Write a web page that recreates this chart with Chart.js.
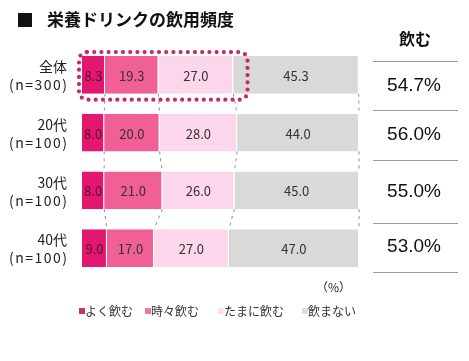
<!DOCTYPE html>
<html>
<head>
<meta charset="utf-8">
<script src="https://cdn.jsdelivr.net/npm/chart.js@4"></script>
<style>
  html, body { margin: 0; padding: 0; background: #fff; }
  #wrap { width: 469px; height: 361px; position: relative; }
</style>
</head>
<body>
<div id="wrap"><canvas id="c" width="469" height="361"></canvas></div>
<script>
const groups = ['全体', '20代', '30代', '40代'];
const sampleSizes = ['(n=300)', '(n=100)', '(n=100)', '(n=100)'];
const often = [8.3, 8.0, 8.0, 9.0];
const sometimes = [19.3, 20.0, 21.0, 17.0];
const rarely = [27.0, 28.0, 26.0, 27.0];
const never = [45.3, 44.0, 45.0, 47.0];
const drinkTotals = [54.7, 56.0, 55.0, 53.0];
const seriesNames = ['よく飲む', '時々飲む', 'たまに飲む', '飲まない'];
const colors = ['#e2176f', '#f05f96', '#fcd6ea', '#d9d9d9'];
const legendColors = ['#c8306e', '#e878a6', '#fbe0ee', '#dddddd'];

const JP = '"Noto Sans CJK JP", "Noto Sans", sans-serif';

const extras = {
  id: 'extras',
  beforeDatasetsDraw(chart) {
    const ctx = chart.ctx;
    const metas = [0, 1, 2, 3].map(d => chart.getDatasetMeta(d).data);
    // dashed connectors between bars
    ctx.save();
    ctx.strokeStyle = '#8c8c8c';
    ctx.lineWidth = 1;
    ctx.setLineDash([3, 4]);
    for (let i = 0; i < groups.length - 1; i++) {
      for (let k = 0; k < 4; k++) {
        const a = metas[k][i], b = metas[k][i + 1];
        ctx.beginPath();
        ctx.moveTo(a.x, a.y + a.height / 2);
        ctx.lineTo(b.x, b.y - b.height / 2);
        ctx.stroke();
      }
    }
    ctx.restore();
  },
  afterDatasetsDraw(chart) {
    const ctx = chart.ctx;
    const xs = chart.scales.x;
    const ys = chart.scales.y;
    const sets = [often, sometimes, rarely, never];

    // category labels
    ctx.save();
    ctx.fillStyle = '#222';
    ctx.textAlign = 'right';
    ctx.textBaseline = 'middle';
    ctx.font = '14px ' + JP;
    groups.forEach((g, i) => {
      const y = ys.getPixelForValue(i);
      ctx.letterSpacing = '0px';
      ctx.fillText(g, 67, y - 8);
      ctx.letterSpacing = '1.5px';
      ctx.fillText(sampleSizes[i], 68.5, y + 10);
    });
    ctx.restore();

    // value labels
    ctx.save();
    ctx.font = '13px ' + JP;
    ctx.textAlign = 'center';
    ctx.textBaseline = 'middle';
    sets.forEach((arr, d) => {
      const els = chart.getDatasetMeta(d).data;
      arr.forEach((v, i) => {
        const el = els[i];
        ctx.fillStyle = d === 0 ? '#5a0a2c' : '#333';
        ctx.fillText(v.toFixed(1), (el.x + el.base) / 2, el.y + 1);
      });
    });
    ctx.restore();

    // dotted highlight around the first bar
    const first = chart.getDatasetMeta(0).data[0];
    const x0 = xs.getPixelForValue(0) - 3;
    const x1 = xs.getPixelForValue(drinkTotals[0]) + 14;
    const y0 = first.y - first.height / 2 - 4;
    const y1 = first.y + first.height / 2 + 6;
    ctx.save();
    ctx.strokeStyle = '#c42a6a';
    ctx.lineWidth = 4.2;
    ctx.lineCap = 'round';
    ctx.setLineDash([0, 7.2]);
    ctx.beginPath();
    ctx.roundRect(x0, y0, x1 - x0, y1 - y0, 8);
    ctx.stroke();
    ctx.restore();

    // title
    ctx.save();
    ctx.fillStyle = '#111';
    ctx.fillRect(18, 13, 14, 14);
    ctx.font = 'bold 17px ' + JP;
    ctx.textBaseline = 'middle';
    ctx.fillText('栄養ドリンクの飲用頻度', 47, 20);
    ctx.restore();

    // right table
    ctx.save();
    ctx.fillStyle = '#111';
    ctx.textAlign = 'center';
    ctx.textBaseline = 'middle';
    ctx.font = 'bold 16px ' + JP;
    ctx.fillText('飲む', 415, 39);
    ctx.strokeStyle = '#999';
    ctx.lineWidth = 1;
    [61, 110, 160, 223, 272].forEach(y => {
      ctx.beginPath();
      ctx.moveTo(373, y + 0.5);
      ctx.lineTo(458, y + 0.5);
      ctx.stroke();
    });
    ctx.font = '19px "Liberation Sans", Arial, sans-serif';
    const rowY = [86, 135, 192, 247];
    drinkTotals.forEach((v, i) => ctx.fillText(v.toFixed(1) + '%', 414, rowY[i]));
    ctx.restore();

    // unit
    ctx.save();
    ctx.fillStyle = '#222';
    ctx.font = '12px ' + JP;
    ctx.textBaseline = 'middle';
    ctx.fillText('（%）', 316, 287);
    ctx.restore();

    // legend
    ctx.save();
    ctx.font = '12px ' + JP;
    ctx.textBaseline = 'middle';
    const legX = [79, 145, 218, 302];
    seriesNames.forEach((n, d) => {
      ctx.fillStyle = legendColors[d];
      ctx.fillRect(legX[d], 308, 6, 6);
      ctx.fillStyle = '#333';
      ctx.fillText(n, legX[d] + 6, 311);
    });
    ctx.restore();
  }
};

new Chart(document.getElementById('c').getContext('2d'), {
  type: 'bar',
  data: {
    labels: groups,
    datasets: [often, sometimes, rarely, never].map((arr, d) => ({
      label: seriesNames[d],
      data: arr,
      backgroundColor: colors[d],
      borderColor: '#ffffff',
      borderWidth: { right: 1, left: 0, top: 0, bottom: 0 },
      borderSkipped: false,
      barPercentage: 0.65,
      categoryPercentage: 1.0
    }))
  },
  options: {
    indexAxis: 'y',
    responsive: false,
    animation: false,
    layout: { padding: { top: 46, bottom: 84, right: 110, left: 82 } },
    scales: {
      x: { stacked: true, min: 0, max: 100, display: false },
      y: { stacked: true, display: false }
    },
    plugins: {
      legend: { display: false },
      tooltip: { enabled: false }
    }
  },
  plugins: [extras]
});
</script>
</body>
</html>
